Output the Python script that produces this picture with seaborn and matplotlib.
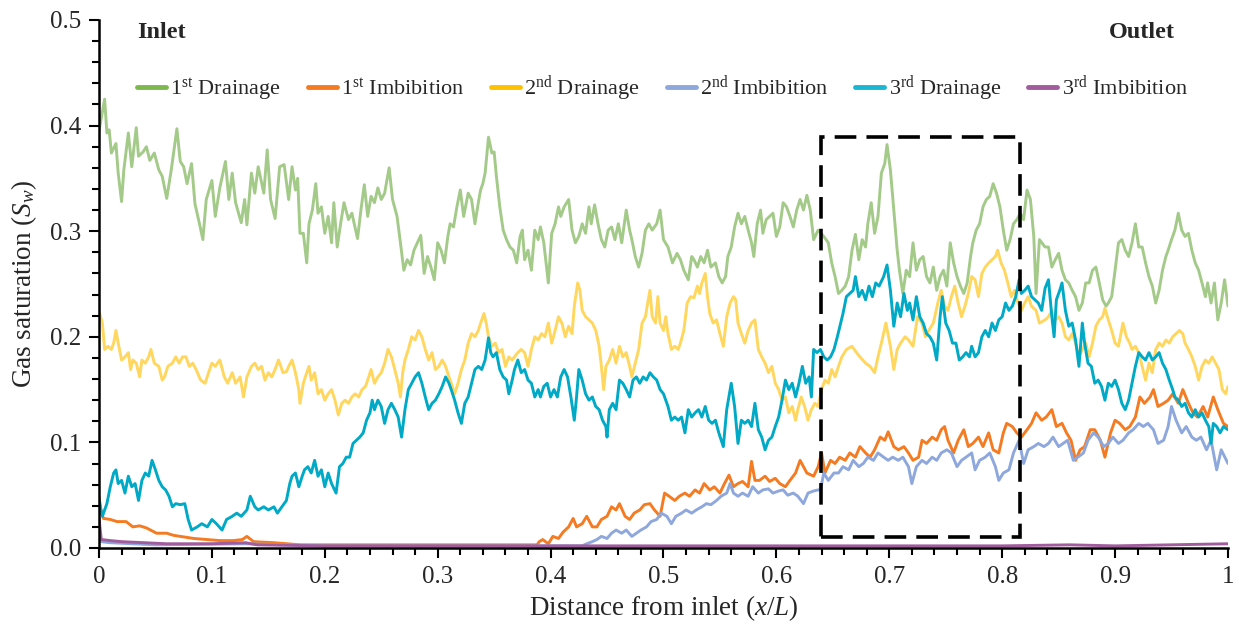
import numpy as np
import pandas as pd
import seaborn as sns
import matplotlib.pyplot as plt
from matplotlib.lines import Line2D
from matplotlib.patches import Rectangle
from matplotlib.ticker import MultipleLocator, FuncFormatter

# Gas saturation profiles: (x/L, Sg)
drain1 = [(0.000,0.395),(0.005,0.425),(0.007,0.393),(0.009,0.396),(0.011,0.374),(0.015,0.383),(0.017,0.355),(0.020,0.328),(0.022,0.358),(0.026,0.393),(0.029,0.361),(0.033,0.398),(0.035,0.371),(0.039,0.375),(0.042,0.380),(0.045,0.367),(0.049,0.374),(0.053,0.358),(0.056,0.352),(0.060,0.331),(0.064,0.358),(0.069,0.397),(0.072,0.366),(0.075,0.361),(0.078,0.345),(0.082,0.364),(0.085,0.326),(0.089,0.307),(0.092,0.292),(0.095,0.330),(0.100,0.348),(0.103,0.314),(0.107,0.341),(0.112,0.366),(0.115,0.330),(0.118,0.355),(0.121,0.327),(0.126,0.308),(0.129,0.330),(0.131,0.306),(0.135,0.355),(0.138,0.336),(0.141,0.361),(0.146,0.336),(0.149,0.377),(0.152,0.330),(0.156,0.312),(0.160,0.361),(0.164,0.363),(0.168,0.330),(0.171,0.361),(0.174,0.339),(0.176,0.350),(0.178,0.298),(0.181,0.298),(0.184,0.270),(0.186,0.307),(0.189,0.320),(0.192,0.345),(0.194,0.317),(0.197,0.323),(0.200,0.298),(0.203,0.314),(0.206,0.289),(0.208,0.327),(0.211,0.285),(0.214,0.307),(0.217,0.327),(0.221,0.311),(0.224,0.317),(0.229,0.293),(0.232,0.320),(0.235,0.344),(0.238,0.314),(0.241,0.333),(0.244,0.327),(0.247,0.341),(0.250,0.330),(0.253,0.336),(0.257,0.360),(0.260,0.330),(0.264,0.314),(0.267,0.289),(0.270,0.263),(0.273,0.273),(0.276,0.268),(0.279,0.282),(0.282,0.289),(0.285,0.296),(0.288,0.260),(0.291,0.276),(0.294,0.266),(0.297,0.254),(0.300,0.289),(0.303,0.282),(0.306,0.270),(0.309,0.295),(0.311,0.307),(0.314,0.304),(0.317,0.323),(0.320,0.339),(0.323,0.314),(0.327,0.336),(0.330,0.330),(0.333,0.307),(0.336,0.327),(0.338,0.339),(0.340,0.345),(0.342,0.355),(0.345,0.389),(0.348,0.374),(0.350,0.375),(0.352,0.352),(0.355,0.323),(0.358,0.301),(0.361,0.292),(0.364,0.285),(0.367,0.282),(0.370,0.270),(0.373,0.295),(0.375,0.301),(0.377,0.273),(0.380,0.282),(0.383,0.263),(0.386,0.301),(0.389,0.292),(0.391,0.304),(0.394,0.289),(0.396,0.270),(0.398,0.251),(0.401,0.298),(0.404,0.307),(0.407,0.323),(0.409,0.314),(0.412,0.323),(0.416,0.330),(0.419,0.301),(0.422,0.289),(0.425,0.295),(0.428,0.307),(0.431,0.298),(0.434,0.323),(0.436,0.307),(0.439,0.325),(0.442,0.307),(0.445,0.292),(0.448,0.285),(0.451,0.301),(0.454,0.304),(0.457,0.292),(0.460,0.307),(0.463,0.289),(0.467,0.320),(0.470,0.301),(0.472,0.292),(0.475,0.276),(0.478,0.266),(0.481,0.279),(0.484,0.301),(0.487,0.307),(0.490,0.301),(0.494,0.307),(0.497,0.320),(0.500,0.292),(0.504,0.285),(0.508,0.270),(0.512,0.279),(0.515,0.273),(0.518,0.263),(0.522,0.254),(0.525,0.276),(0.527,0.273),(0.530,0.266),(0.533,0.276),(0.536,0.270),(0.539,0.282),(0.542,0.266),(0.546,0.270),(0.549,0.257),(0.552,0.251),(0.555,0.257),(0.557,0.276),(0.560,0.285),(0.563,0.304),(0.566,0.317),(0.569,0.307),(0.572,0.314),(0.575,0.301),(0.578,0.289),(0.580,0.276),(0.583,0.307),(0.586,0.320),(0.588,0.298),(0.591,0.311),(0.594,0.314),(0.597,0.317),(0.600,0.295),(0.603,0.304),(0.606,0.327),(0.609,0.323),(0.612,0.314),(0.615,0.304),(0.618,0.320),(0.621,0.330),(0.624,0.320),(0.627,0.334),(0.630,0.320),(0.633,0.292),(0.637,0.301),(0.642,0.295),(0.646,0.289),(0.649,0.270),(0.652,0.257),(0.655,0.241),(0.658,0.244),(0.661,0.248),(0.664,0.257),(0.667,0.282),(0.670,0.297),(0.673,0.273),(0.676,0.292),(0.679,0.285),(0.681,0.307),(0.684,0.327),(0.687,0.298),(0.690,0.314),(0.693,0.355),(0.696,0.364),(0.698,0.382),(0.701,0.358),(0.704,0.320),(0.707,0.282),(0.709,0.263),(0.712,0.241),(0.715,0.263),(0.718,0.257),(0.721,0.289),(0.724,0.263),(0.727,0.273),(0.730,0.276),(0.733,0.257),(0.736,0.251),(0.739,0.266),(0.742,0.244),(0.745,0.257),(0.748,0.263),(0.751,0.248),(0.754,0.289),(0.757,0.270),(0.760,0.257),(0.763,0.248),(0.766,0.241),(0.769,0.251),(0.772,0.276),(0.774,0.289),(0.777,0.301),(0.780,0.307),(0.783,0.323),(0.786,0.330),(0.789,0.333),(0.792,0.345),(0.795,0.336),(0.798,0.323),(0.801,0.301),(0.804,0.282),(0.807,0.292),(0.810,0.307),(0.813,0.311),(0.816,0.317),(0.819,0.311),(0.822,0.339),(0.825,0.330),(0.828,0.295),(0.830,0.241),(0.833,0.292),(0.838,0.285),(0.841,0.285),(0.844,0.266),(0.847,0.273),(0.850,0.279),(0.853,0.263),(0.856,0.254),(0.859,0.251),(0.862,0.244),(0.865,0.238),(0.868,0.225),(0.871,0.232),(0.874,0.251),(0.877,0.251),(0.880,0.263),(0.883,0.266),(0.886,0.251),(0.889,0.235),(0.892,0.229),(0.894,0.232),(0.897,0.238),(0.900,0.263),(0.903,0.289),(0.906,0.292),(0.909,0.282),(0.912,0.276),(0.915,0.289),(0.918,0.307),(0.921,0.285),(0.924,0.285),(0.927,0.270),(0.930,0.257),(0.933,0.248),(0.936,0.232),(0.939,0.244),(0.942,0.263),(0.945,0.276),(0.947,0.282),(0.950,0.292),(0.953,0.301),(0.956,0.317),(0.959,0.301),(0.962,0.295),(0.965,0.298),(0.968,0.282),(0.971,0.270),(0.974,0.263),(0.977,0.251),(0.980,0.238),(0.982,0.251),(0.985,0.232),(0.988,0.251),(0.991,0.216),(0.994,0.232),(0.997,0.254),(1.000,0.229)]

imb1 = [(0.000,0.049),(0.002,0.033),(0.004,0.028),(0.010,0.027),(0.016,0.025),(0.024,0.025),(0.030,0.020),(0.036,0.021),(0.042,0.019),(0.051,0.014),(0.060,0.014),(0.066,0.012),(0.072,0.011),(0.084,0.009),(0.095,0.008),(0.107,0.007),(0.119,0.007),(0.127,0.008),(0.131,0.011),(0.137,0.006),(0.155,0.005),(0.178,0.003),(0.250,0.003),(0.330,0.003),(0.388,0.003),(0.390,0.006),(0.393,0.008),(0.398,0.004),(0.402,0.011),(0.407,0.009),(0.411,0.015),(0.416,0.020),(0.420,0.028),(0.423,0.020),(0.428,0.023),(0.432,0.030),(0.437,0.020),(0.441,0.020),(0.445,0.027),(0.450,0.030),(0.454,0.039),(0.458,0.036),(0.461,0.042),(0.466,0.030),(0.470,0.027),(0.474,0.033),(0.479,0.036),(0.483,0.041),(0.488,0.042),(0.492,0.036),(0.497,0.030),(0.501,0.052),(0.505,0.049),(0.510,0.045),(0.514,0.049),(0.519,0.052),(0.523,0.049),(0.528,0.055),(0.532,0.052),(0.536,0.061),(0.541,0.055),(0.545,0.058),(0.550,0.052),(0.554,0.061),(0.558,0.069),(0.562,0.058),(0.566,0.061),(0.570,0.063),(0.575,0.058),(0.578,0.082),(0.581,0.064),(0.585,0.064),(0.590,0.068),(0.594,0.063),(0.599,0.066),(0.603,0.061),(0.608,0.058),(0.612,0.064),(0.617,0.071),(0.621,0.083),(0.627,0.071),(0.633,0.068),(0.637,0.077),(0.640,0.090),(0.643,0.071),(0.648,0.083),(0.652,0.080),(0.656,0.086),(0.661,0.083),(0.665,0.090),(0.670,0.086),(0.674,0.096),(0.679,0.090),(0.683,0.086),(0.687,0.093),(0.692,0.105),(0.696,0.102),(0.699,0.110),(0.704,0.096),(0.708,0.093),(0.713,0.096),(0.717,0.090),(0.721,0.083),(0.726,0.086),(0.729,0.102),(0.733,0.099),(0.738,0.105),(0.742,0.102),(0.746,0.112),(0.749,0.115),(0.752,0.102),(0.757,0.090),(0.761,0.102),(0.766,0.112),(0.770,0.096),(0.774,0.099),(0.779,0.105),(0.783,0.096),(0.788,0.109),(0.792,0.093),(0.797,0.090),(0.801,0.109),(0.804,0.118),(0.809,0.115),(0.813,0.109),(0.817,0.105),(0.822,0.112),(0.826,0.118),(0.830,0.128),(0.835,0.121),(0.839,0.124),(0.844,0.131),(0.848,0.115),(0.853,0.118),(0.857,0.109),(0.861,0.102),(0.865,0.083),(0.869,0.093),(0.873,0.096),(0.878,0.112),(0.882,0.112),(0.887,0.102),(0.891,0.086),(0.896,0.109),(0.900,0.121),(0.904,0.118),(0.909,0.112),(0.913,0.115),(0.918,0.124),(0.922,0.143),(0.926,0.137),(0.931,0.143),(0.934,0.150),(0.938,0.134),(0.943,0.137),(0.947,0.140),(0.951,0.146),(0.956,0.137),(0.960,0.150),(0.965,0.137),(0.969,0.128),(0.973,0.124),(0.978,0.134),(0.982,0.124),(0.987,0.143),(0.991,0.131),(0.996,0.118),(1.000,0.115)]

drain2 = [(0.000,0.224),(0.003,0.213),(0.005,0.188),(0.008,0.191),(0.011,0.188),(0.013,0.194),(0.015,0.206),(0.017,0.194),(0.020,0.178),(0.023,0.181),(0.026,0.185),(0.028,0.169),(0.030,0.178),(0.033,0.175),(0.036,0.162),(0.038,0.178),(0.041,0.175),(0.044,0.181),(0.046,0.188),(0.049,0.175),(0.053,0.172),(0.056,0.159),(0.058,0.162),(0.061,0.172),(0.065,0.175),(0.068,0.181),(0.071,0.175),(0.074,0.181),(0.077,0.181),(0.080,0.172),(0.083,0.175),(0.086,0.169),(0.090,0.159),(0.094,0.156),(0.097,0.166),(0.100,0.175),(0.103,0.172),(0.107,0.178),(0.111,0.162),(0.114,0.156),(0.118,0.166),(0.121,0.156),(0.125,0.162),(0.128,0.143),(0.131,0.162),(0.135,0.172),(0.138,0.175),(0.141,0.169),(0.144,0.172),(0.147,0.159),(0.150,0.166),(0.153,0.162),(0.156,0.169),(0.159,0.178),(0.163,0.166),(0.166,0.167),(0.168,0.172),(0.171,0.178),(0.174,0.166),(0.177,0.150),(0.178,0.137),(0.181,0.156),(0.184,0.166),(0.186,0.172),(0.188,0.159),(0.191,0.166),(0.194,0.146),(0.197,0.150),(0.200,0.140),(0.203,0.146),(0.206,0.150),(0.209,0.140),(0.212,0.126),(0.215,0.137),(0.218,0.140),(0.221,0.137),(0.224,0.143),(0.227,0.146),(0.230,0.143),(0.233,0.150),(0.236,0.153),(0.238,0.159),(0.241,0.169),(0.244,0.156),(0.247,0.162),(0.250,0.166),(0.253,0.175),(0.256,0.188),(0.259,0.181),(0.262,0.169),(0.265,0.156),(0.267,0.143),(0.269,0.166),(0.271,0.178),(0.274,0.188),(0.277,0.200),(0.280,0.197),(0.283,0.206),(0.286,0.200),(0.289,0.188),(0.292,0.178),(0.295,0.185),(0.298,0.169),(0.301,0.172),(0.304,0.178),(0.307,0.172),(0.310,0.162),(0.312,0.156),(0.315,0.146),(0.318,0.156),(0.321,0.169),(0.324,0.178),(0.327,0.194),(0.330,0.203),(0.333,0.200),(0.336,0.206),(0.339,0.216),(0.341,0.222),(0.343,0.213),(0.345,0.200),(0.348,0.191),(0.351,0.194),(0.354,0.185),(0.357,0.188),(0.360,0.172),(0.363,0.181),(0.366,0.178),(0.368,0.181),(0.371,0.185),(0.374,0.188),(0.377,0.185),(0.380,0.172),(0.383,0.188),(0.386,0.200),(0.389,0.197),(0.392,0.203),(0.395,0.200),(0.398,0.213),(0.401,0.194),(0.404,0.206),(0.407,0.219),(0.410,0.213),(0.413,0.200),(0.416,0.210),(0.419,0.203),(0.421,0.229),(0.424,0.251),(0.426,0.244),(0.428,0.225),(0.431,0.219),(0.434,0.216),(0.437,0.213),(0.440,0.206),(0.443,0.191),(0.445,0.172),(0.447,0.150),(0.449,0.172),(0.452,0.178),(0.455,0.188),(0.458,0.175),(0.461,0.191),(0.464,0.181),(0.467,0.185),(0.470,0.172),(0.472,0.162),(0.475,0.175),(0.478,0.188),(0.481,0.213),(0.484,0.219),(0.486,0.232),(0.488,0.244),(0.490,0.219),(0.493,0.213),(0.495,0.238),(0.497,0.213),(0.500,0.206),(0.502,0.219),(0.504,0.203),(0.507,0.188),(0.510,0.191),(0.513,0.188),(0.515,0.194),(0.518,0.206),(0.521,0.232),(0.524,0.238),(0.527,0.237),(0.530,0.248),(0.532,0.241),(0.534,0.251),(0.537,0.260),(0.539,0.238),(0.541,0.222),(0.544,0.213),(0.547,0.216),(0.550,0.203),(0.553,0.191),(0.556,0.219),(0.559,0.232),(0.562,0.238),(0.564,0.235),(0.566,0.213),(0.569,0.203),(0.572,0.194),(0.575,0.206),(0.578,0.213),(0.581,0.216),(0.584,0.188),(0.587,0.181),(0.590,0.175),(0.593,0.166),(0.596,0.172),(0.599,0.156),(0.602,0.150),(0.605,0.140),(0.608,0.143),(0.611,0.128),(0.614,0.134),(0.617,0.121),(0.619,0.131),(0.622,0.143),(0.625,0.134),(0.628,0.121),(0.631,0.131),(0.634,0.137),(0.637,0.134),(0.640,0.150),(0.643,0.159),(0.646,0.156),(0.649,0.169),(0.652,0.162),(0.655,0.172),(0.658,0.181),(0.662,0.188),(0.667,0.191),(0.671,0.185),(0.674,0.181),(0.679,0.175),(0.683,0.172),(0.687,0.166),(0.690,0.181),(0.693,0.194),(0.697,0.213),(0.701,0.191),(0.704,0.169),(0.707,0.188),(0.710,0.194),(0.714,0.200),(0.717,0.197),(0.721,0.191),(0.725,0.219),(0.729,0.213),(0.732,0.200),(0.735,0.206),(0.739,0.213),(0.743,0.232),(0.746,0.244),(0.749,0.229),(0.752,0.225),(0.755,0.238),(0.758,0.248),(0.761,0.232),(0.764,0.219),(0.767,0.229),(0.770,0.241),(0.773,0.257),(0.776,0.254),(0.779,0.238),(0.782,0.260),(0.785,0.266),(0.788,0.270),(0.791,0.273),(0.794,0.276),(0.796,0.282),(0.799,0.270),(0.802,0.263),(0.805,0.251),(0.808,0.238),(0.811,0.244),(0.814,0.232),(0.817,0.225),(0.820,0.232),(0.823,0.238),(0.826,0.229),(0.830,0.225),(0.833,0.213),(0.838,0.216),(0.841,0.219),(0.844,0.225),(0.847,0.216),(0.850,0.219),(0.853,0.213),(0.856,0.200),(0.859,0.197),(0.862,0.203),(0.865,0.194),(0.868,0.181),(0.871,0.188),(0.874,0.194),(0.877,0.181),(0.880,0.194),(0.883,0.210),(0.886,0.216),(0.889,0.219),(0.891,0.227),(0.894,0.216),(0.897,0.206),(0.900,0.194),(0.903,0.191),(0.907,0.213),(0.910,0.200),(0.913,0.194),(0.915,0.188),(0.918,0.191),(0.921,0.185),(0.924,0.172),(0.927,0.159),(0.930,0.175),(0.933,0.166),(0.936,0.188),(0.939,0.194),(0.942,0.191),(0.945,0.197),(0.948,0.194),(0.951,0.200),(0.954,0.203),(0.957,0.206),(0.960,0.203),(0.962,0.194),(0.965,0.188),(0.968,0.181),(0.971,0.172),(0.974,0.159),(0.977,0.172),(0.980,0.178),(0.983,0.175),(0.986,0.181),(0.989,0.175),(0.992,0.169),(0.995,0.150),(0.998,0.146),(1.000,0.153)]

imb2 = [(0.000,0.012),(0.002,0.006),(0.010,0.005),(0.050,0.003),(0.130,0.004),(0.200,0.002),(0.300,0.002),(0.400,0.002),(0.428,0.002),(0.432,0.004),(0.437,0.006),(0.441,0.008),(0.445,0.011),(0.450,0.009),(0.454,0.014),(0.458,0.017),(0.463,0.014),(0.467,0.017),(0.472,0.011),(0.476,0.014),(0.480,0.017),(0.485,0.020),(0.489,0.025),(0.494,0.027),(0.498,0.033),(0.503,0.030),(0.507,0.023),(0.511,0.030),(0.516,0.033),(0.520,0.036),(0.525,0.033),(0.529,0.036),(0.534,0.039),(0.538,0.042),(0.542,0.041),(0.547,0.045),(0.551,0.049),(0.556,0.052),(0.559,0.061),(0.562,0.052),(0.566,0.049),(0.570,0.052),(0.575,0.049),(0.579,0.058),(0.584,0.052),(0.588,0.055),(0.593,0.056),(0.597,0.052),(0.602,0.054),(0.606,0.055),(0.610,0.050),(0.615,0.052),(0.619,0.049),(0.624,0.042),(0.628,0.052),(0.633,0.054),(0.637,0.055),(0.639,0.055),(0.642,0.071),(0.646,0.064),(0.651,0.071),(0.655,0.071),(0.659,0.077),(0.664,0.074),(0.668,0.083),(0.673,0.077),(0.677,0.080),(0.681,0.086),(0.686,0.083),(0.690,0.090),(0.695,0.086),(0.699,0.083),(0.703,0.086),(0.708,0.083),(0.712,0.086),(0.717,0.077),(0.720,0.061),(0.724,0.077),(0.729,0.083),(0.733,0.080),(0.738,0.086),(0.742,0.083),(0.746,0.090),(0.751,0.093),(0.755,0.090),(0.760,0.077),(0.764,0.083),(0.768,0.086),(0.773,0.090),(0.776,0.074),(0.780,0.083),(0.785,0.086),(0.789,0.090),(0.794,0.077),(0.797,0.064),(0.801,0.071),(0.806,0.074),(0.810,0.090),(0.815,0.102),(0.819,0.080),(0.823,0.093),(0.828,0.096),(0.832,0.099),(0.837,0.096),(0.841,0.099),(0.845,0.105),(0.850,0.096),(0.854,0.099),(0.858,0.102),(0.863,0.083),(0.867,0.086),(0.872,0.090),(0.876,0.102),(0.881,0.109),(0.885,0.105),(0.890,0.096),(0.894,0.099),(0.898,0.105),(0.903,0.099),(0.907,0.102),(0.912,0.109),(0.916,0.112),(0.921,0.118),(0.925,0.115),(0.929,0.118),(0.934,0.112),(0.938,0.099),(0.943,0.102),(0.947,0.115),(0.950,0.134),(0.954,0.121),(0.959,0.109),(0.963,0.115),(0.968,0.105),(0.972,0.102),(0.976,0.105),(0.981,0.093),(0.985,0.102),(0.990,0.074),(0.994,0.093),(1.000,0.080)]

drain3 = [(0.000,0.045),(0.003,0.030),(0.007,0.042),(0.010,0.058),(0.013,0.071),(0.015,0.074),(0.017,0.061),(0.020,0.064),(0.023,0.052),(0.026,0.068),(0.029,0.058),(0.032,0.061),(0.035,0.045),(0.038,0.064),(0.041,0.071),(0.044,0.068),(0.047,0.083),(0.050,0.074),(0.053,0.064),(0.056,0.058),(0.059,0.055),(0.062,0.049),(0.065,0.039),(0.068,0.042),(0.072,0.041),(0.076,0.042),(0.079,0.027),(0.082,0.017),(0.087,0.020),(0.091,0.023),(0.096,0.020),(0.100,0.027),(0.104,0.023),(0.109,0.017),(0.113,0.027),(0.118,0.030),(0.122,0.033),(0.126,0.030),(0.131,0.036),(0.134,0.049),(0.138,0.039),(0.141,0.036),(0.146,0.039),(0.150,0.036),(0.155,0.039),(0.158,0.033),(0.162,0.039),(0.166,0.045),(0.169,0.061),(0.171,0.068),(0.174,0.071),(0.177,0.058),(0.180,0.068),(0.182,0.074),(0.185,0.077),(0.188,0.071),(0.191,0.083),(0.194,0.068),(0.197,0.074),(0.200,0.058),(0.203,0.071),(0.206,0.061),(0.210,0.052),(0.213,0.077),(0.216,0.080),(0.219,0.086),(0.222,0.086),(0.225,0.099),(0.228,0.102),(0.231,0.105),(0.234,0.109),(0.237,0.121),(0.240,0.128),(0.242,0.140),(0.244,0.131),(0.247,0.140),(0.250,0.134),(0.253,0.118),(0.256,0.131),(0.259,0.137),(0.262,0.131),(0.265,0.124),(0.268,0.105),(0.271,0.131),(0.274,0.150),(0.277,0.156),(0.280,0.162),(0.283,0.166),(0.286,0.156),(0.289,0.143),(0.292,0.131),(0.295,0.137),(0.298,0.140),(0.301,0.146),(0.304,0.153),(0.307,0.162),(0.310,0.156),(0.312,0.150),(0.315,0.140),(0.318,0.128),(0.321,0.118),(0.324,0.137),(0.327,0.143),(0.330,0.156),(0.333,0.169),(0.336,0.172),(0.339,0.169),(0.342,0.178),(0.345,0.199),(0.347,0.185),(0.349,0.181),(0.352,0.185),(0.355,0.169),(0.358,0.162),(0.361,0.159),(0.363,0.146),(0.366,0.159),(0.368,0.169),(0.371,0.178),(0.374,0.166),(0.377,0.169),(0.380,0.159),(0.383,0.156),(0.386,0.143),(0.389,0.150),(0.391,0.143),(0.394,0.153),(0.397,0.156),(0.400,0.143),(0.403,0.150),(0.406,0.143),(0.409,0.162),(0.412,0.169),(0.415,0.162),(0.418,0.143),(0.421,0.121),(0.423,0.143),(0.425,0.169),(0.428,0.159),(0.431,0.146),(0.434,0.140),(0.437,0.143),(0.440,0.134),(0.443,0.131),(0.446,0.121),(0.449,0.115),(0.450,0.105),(0.452,0.131),(0.455,0.137),(0.458,0.131),(0.461,0.159),(0.464,0.156),(0.467,0.150),(0.470,0.143),(0.473,0.159),(0.476,0.162),(0.479,0.156),(0.482,0.162),(0.485,0.159),(0.488,0.166),(0.491,0.162),(0.494,0.159),(0.497,0.150),(0.500,0.146),(0.504,0.134),(0.507,0.121),(0.510,0.124),(0.513,0.121),(0.516,0.124),(0.519,0.109),(0.522,0.131),(0.525,0.124),(0.528,0.128),(0.531,0.131),(0.534,0.124),(0.537,0.134),(0.540,0.121),(0.543,0.118),(0.546,0.121),(0.549,0.109),(0.553,0.096),(0.556,0.131),(0.560,0.156),(0.563,0.134),(0.566,0.099),(0.569,0.121),(0.572,0.118),(0.575,0.121),(0.578,0.115),(0.581,0.137),(0.584,0.112),(0.587,0.105),(0.590,0.093),(0.593,0.102),(0.596,0.105),(0.599,0.115),(0.602,0.124),(0.605,0.140),(0.608,0.159),(0.611,0.150),(0.614,0.156),(0.617,0.143),(0.620,0.156),(0.623,0.172),(0.626,0.156),(0.629,0.162),(0.631,0.143),(0.633,0.188),(0.636,0.185),(0.639,0.188),(0.642,0.181),(0.645,0.178),(0.648,0.181),(0.651,0.188),(0.654,0.200),(0.657,0.213),(0.659,0.222),(0.662,0.238),(0.665,0.241),(0.668,0.244),(0.670,0.257),(0.673,0.238),(0.676,0.244),(0.679,0.235),(0.682,0.248),(0.685,0.238),(0.688,0.251),(0.691,0.248),(0.695,0.257),(0.698,0.268),(0.701,0.244),(0.704,0.210),(0.707,0.232),(0.710,0.219),(0.713,0.241),(0.716,0.225),(0.718,0.232),(0.721,0.216),(0.724,0.238),(0.727,0.219),(0.730,0.213),(0.733,0.203),(0.736,0.200),(0.739,0.194),(0.742,0.178),(0.745,0.219),(0.747,0.238),(0.750,0.213),(0.753,0.206),(0.756,0.194),(0.759,0.194),(0.762,0.178),(0.765,0.181),(0.768,0.185),(0.771,0.181),(0.773,0.191),(0.776,0.181),(0.779,0.185),(0.782,0.200),(0.785,0.206),(0.788,0.200),(0.791,0.213),(0.794,0.206),(0.797,0.216),(0.800,0.219),(0.803,0.232),(0.806,0.225),(0.809,0.229),(0.812,0.238),(0.815,0.254),(0.817,0.241),(0.820,0.244),(0.823,0.248),(0.826,0.238),(0.829,0.235),(0.832,0.232),(0.835,0.225),(0.838,0.246),(0.841,0.254),(0.844,0.219),(0.846,0.200),(0.848,0.235),(0.851,0.244),(0.853,0.251),(0.856,0.225),(0.859,0.210),(0.862,0.213),(0.865,0.197),(0.868,0.172),(0.871,0.213),(0.873,0.194),(0.876,0.175),(0.879,0.172),(0.882,0.156),(0.885,0.159),(0.888,0.153),(0.891,0.140),(0.894,0.156),(0.897,0.153),(0.900,0.159),(0.903,0.150),(0.906,0.137),(0.909,0.131),(0.912,0.140),(0.915,0.156),(0.918,0.172),(0.921,0.185),(0.924,0.181),(0.927,0.178),(0.930,0.185),(0.933,0.178),(0.936,0.181),(0.939,0.185),(0.942,0.175),(0.945,0.169),(0.948,0.159),(0.951,0.150),(0.953,0.143),(0.956,0.140),(0.959,0.134),(0.962,0.137),(0.965,0.128),(0.968,0.124),(0.971,0.131),(0.974,0.124),(0.977,0.128),(0.980,0.121),(0.983,0.115),(0.985,0.099),(0.987,0.118),(0.990,0.115),(0.993,0.109),(0.996,0.115),(1.000,0.112)]

imb3 = [(0.000,0.028),(0.002,0.008),(0.010,0.007),(0.020,0.006),(0.040,0.005),(0.060,0.004),(0.100,0.004),(0.130,0.005),(0.140,0.003),(0.200,0.002),(0.300,0.002),(0.400,0.002),(0.500,0.002),(0.600,0.002),(0.700,0.002),(0.800,0.002),(0.860,0.003),(0.900,0.002),(0.950,0.003),(1.000,0.004)]

labels = ["1$^{\\mathrm{st}}$ Drainage", "1$^{\\mathrm{st}}$ Imbibition",
          "2$^{\\mathrm{nd}}$ Drainage", "2$^{\\mathrm{nd}}$ Imbibition",
          "3$^{\\mathrm{rd}}$ Drainage", "3$^{\\mathrm{rd}}$ Imbibition"]
series = [drain1, imb1, drain2, imb2, drain3, imb3]
line_colors = ["#a3ca88", "#f47b22", "#ffd65e", "#8ea7dc", "#00a9c6", "#a05c9c"]
legend_colors = ["#7db84f", "#f47b22", "#ffc000", "#8ea7dc", "#1ab6d4", "#a05c9c"]

sns.set_style("ticks")
plt.rcParams['font.family'] = ['Liberation Serif', 'DejaVu Serif']
plt.rcParams['mathtext.fontset'] = 'custom'
plt.rcParams['mathtext.rm'] = 'Liberation Serif'
plt.rcParams['mathtext.it'] = 'Liberation Serif:italic'
plt.rcParams['mathtext.bf'] = 'Liberation Serif:bold'

fig = plt.figure(figsize=(12.39, 6.28), dpi=100)
ax = fig.add_axes([0.0799, 0.1274, 0.9112, 0.8408])

for pts, col in zip(series, line_colors):
    df = pd.DataFrame(pts, columns=["x", "y"])
    sns.lineplot(data=df, x="x", y="y", color=col, lw=2.1, ax=ax,
                 estimator=None, legend=False)

# highlighted region
ax.add_patch(Rectangle((0.6395, 0.0104), 0.8158 - 0.6395, 0.389 - 0.0104,
                       fill=False, ec="black", lw=2.6, ls=(0, (6, 2.8)), zorder=5))

ax.set_xlim(0, 1)
ax.set_ylim(0, 0.5)
ax.xaxis.set_major_locator(MultipleLocator(0.1))
ax.xaxis.set_minor_locator(MultipleLocator(0.02))
ax.yaxis.set_major_locator(MultipleLocator(0.1))
ax.yaxis.set_minor_locator(MultipleLocator(0.02))
ax.xaxis.set_major_formatter(FuncFormatter(lambda v, p: f"{v:g}"))
ax.yaxis.set_major_formatter(FuncFormatter(lambda v, p: f"{v:.1f}"))
ax.tick_params(which="major", length=7, width=1.5, labelsize=18, color="black", pad=6)
ax.tick_params(which="minor", length=5, width=1.5, color="black")

sns.despine(ax=ax)
for s in ["left", "bottom"]:
    ax.spines[s].set_linewidth(1.8)
    ax.spines[s].set_color("black")

ax.set_xlabel("Distance from inlet $\\mathit{(x/L)}$", fontsize=19.5, labelpad=4)
ax.set_ylabel("Gas saturation $\\mathit{(S_w)}$", fontsize=19.5, labelpad=8)

ax.text(0.034, 0.488, "Inlet", fontsize=17.5, fontweight="bold", va="center", ha="left")
ax.text(0.953, 0.488, "Outlet", fontsize=17.5, fontweight="bold", va="center", ha="right")

handles = [Line2D([0], [0], color=c, lw=3.5) for c in legend_colors]
ax.legend(handles, labels, loc="center", bbox_to_anchor=(0.499, 0.869), ncol=6,
          frameon=False, fontsize=16, handlelength=1.3, handletextpad=0.2,
          columnspacing=1.2)

fig.savefig("out.png", dpi=100)
plt.close(fig)
